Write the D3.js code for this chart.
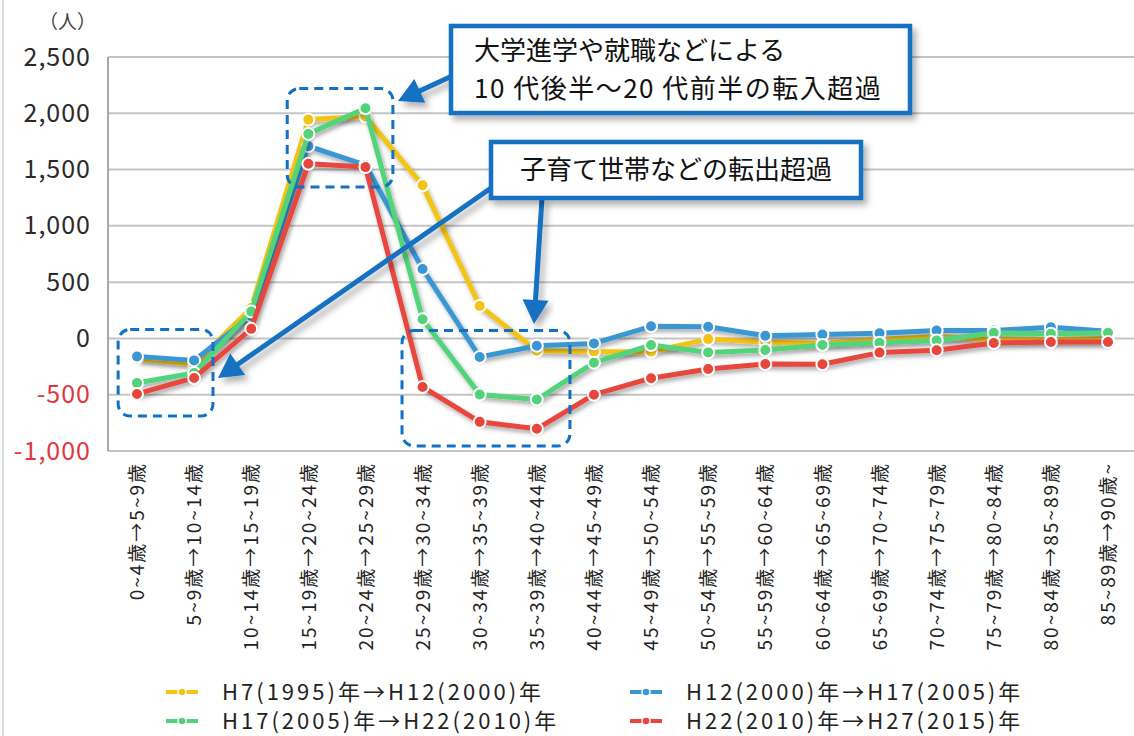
<!DOCTYPE html>
<html>
<head>
<meta charset="utf-8">
<script src="https://cdn.jsdelivr.net/npm/d3@7/dist/d3.min.js"></script>
<style>
  html, body { margin: 0; padding: 0; background: #fff; }
  svg { display: block; }
  text { font-family: "Noto Sans CJK JP", "Noto Sans", sans-serif; }
</style>
</head>
<body>
<svg id="chart" width="1134" height="736"></svg>
<script>
// ---- data ----
const categories = [
  "0~4歳→5~9歳", "5~9歳→10~14歳", "10~14歳→15~19歳", "15~19歳→20~24歳",
  "20~24歳→25~29歳", "25~29歳→30~34歳", "30~34歳→35~39歳", "35~39歳→40~44歳",
  "40~44歳→45~49歳", "45~49歳→50~54歳", "50~54歳→55~59歳", "55~59歳→60~64歳",
  "60~64歳→65~69歳", "65~69歳→70~74歳", "70~74歳→75~79歳", "75~79歳→80~84歳",
  "80~84歳→85~89歳", "85~89歳→90歳~"
];
const seriesNames = [
  "H7(1995)年→H12(2000)年",
  "H12(2000)年→H17(2005)年",
  "H17(2005)年→H22(2010)年",
  "H22(2010)年→H27(2015)年"
];
const h7_h12  = [-180, -230, 270, 1944, 1971, 1360, 289, -110, -118, -118, -6, -35, -42, -10, 18, -12, -12, -6];
const h12_h17 = [-160, -195, 200, 1708, 1540, 617, -165, -65, -44, 108, 103, 23, 35, 47, 70, 70, 99, 64];
const h17_h22 = [-396, -307, 239, 1817, 2044, 171, -498, -543, -215, -59, -124, -103, -59, -38, -18, 50, 41, 50];
const h22_h27 = [-493, -351, 85, 1551, 1522, -431, -741, -803, -500, -353, -271, -227, -230, -126, -105, -41, -32, -32];
const yTicks = [-1000, -500, 0, 500, 1000, 1500, 2000, 2500];
const unitLabel = "（人）";
const note1 = ["大学進学や就職などによる", "10 代後半～20 代前半の転入超過"];
const note2 = "子育て世帯などの転出超過";

const seriesValues = [h7_h12, h12_h17, h17_h22, h22_h27];
const colors = ["#f2c417", "#3a97d4", "#52d37a", "#e8463c"];

// ---- layout ----
const svg = d3.select("#chart");
const W = 1134, H = 736;
const plot = { left: 108, right: 1134, top: 57, bottom: 451 };

const x = d3.scalePoint().domain(categories).range([137, 1108]);
const y = d3.scaleLinear().domain([-1000, 2500]).range([plot.bottom, plot.top]);
const xi = i => x(categories[0]) + i * x.step();

// defs
const defs = svg.append("defs");
const sh = defs.append("filter").attr("id", "shadow").attr("x", "-10%").attr("y", "-10%").attr("width", "130%").attr("height", "140%");
sh.append("feDropShadow").attr("dx", 2).attr("dy", 3).attr("stdDeviation", 2).attr("flood-color", "#000").attr("flood-opacity", 0.35);
const bsh = defs.append("filter").attr("id", "boxshadow").attr("x", "-10%").attr("y", "-20%").attr("width", "130%").attr("height", "160%");
bsh.append("feDropShadow").attr("dx", 4).attr("dy", 5).attr("stdDeviation", 3).attr("flood-color", "#000").attr("flood-opacity", 0.3);

// left page border
svg.append("line").attr("x1", 3).attr("x2", 3).attr("y1", 0).attr("y2", H)
  .attr("stroke", "#d0d0d0").attr("stroke-width", 1.5);

// gridlines
svg.append("g").selectAll("line").data(yTicks).join("line")
  .attr("x1", plot.left).attr("x2", plot.right)
  .attr("y1", d => y(d)).attr("y2", d => y(d))
  .attr("stroke", "#c4c4c4").attr("stroke-width", 2);

// y axis line
svg.append("line").attr("x1", plot.left).attr("x2", plot.left)
  .attr("y1", y(2500)).attr("y2", y(-1000))
  .attr("stroke", "#a8a8a8").attr("stroke-width", 2);

// y axis labels
const fmt = d3.format(",");
const yAxis = d3.axisLeft(y).tickValues(yTicks).tickFormat(d => fmt(d).replace("\u2212", "-")).tickSize(0).tickPadding(17);
const yg = svg.append("g").attr("transform", `translate(${plot.left},0)`).call(yAxis);
yg.select(".domain").remove();
yg.selectAll("text")
  .style("font-size", "25px")
  .style("letter-spacing", "1px")
  .attr("fill", d => d < 0 ? "#e4363f" : "#2a2a2a");

svg.append("text").attr("x", 96).attr("y", 29).attr("text-anchor", "end")
  .style("font-size", "19px").attr("fill", "#444").text(unitLabel);

// x axis labels (rotated)
const xAxis = d3.axisBottom(x).tickSize(0).tickPadding(0);
const xg = svg.append("g").attr("transform", `translate(0,${plot.bottom})`).call(xAxis);
xg.select(".domain").remove();
xg.selectAll("text")
  .attr("transform", "rotate(-90)")
  .attr("text-anchor", "end")
  .attr("x", -11).attr("y", 0).attr("dy", "0.35em")
  .style("font-size", "19px")
  .style("letter-spacing", "2px")
  .attr("fill", "#222");

// series
const line = d3.line().x((d, i) => x(categories[i])).y(d => y(d));
const sg = svg.append("g");
seriesValues.forEach((vals, k) => {
  const g = sg.append("g");
  g.append("path").datum(vals).attr("d", line)
    .attr("fill", "none").attr("stroke", colors[k]).attr("stroke-width", 5)
    .attr("stroke-linejoin", "round").attr("filter", "url(#shadow)");
  g.selectAll("circle").data(vals).join("circle")
    .attr("cx", (d, i) => x(categories[i])).attr("cy", d => y(d)).attr("r", 6)
    .attr("fill", colors[k]).attr("stroke", "#fff").attr("stroke-width", 2);
});

// dashed highlight boxes (data coords)
const blue = "#1271c2";
const dashBoxes = [
  { i0: -0.33, i1: 1.33, v0: 80, v1: -690 },
  { i0: 2.63, i1: 4.48, v0: 2220, v1: 1345 },
  { i0: 4.64, i1: 7.58, v0: 70, v1: -955 }
];
svg.append("g").selectAll("rect").data(dashBoxes).join("rect")
  .attr("x", d => xi(d.i0)).attr("y", d => y(d.v0))
  .attr("width", d => xi(d.i1) - xi(d.i0)).attr("height", d => y(d.v1) - y(d.v0))
  .attr("rx", 12).attr("ry", 12)
  .attr("fill", "none").attr("stroke", blue).attr("stroke-width", 3)
  .attr("stroke-dasharray", "9,6");

// arrows
function arrow(x1, y1, x2, y2) {
  const ang = Math.atan2(y2 - y1, x2 - x1);
  const L = 24, Wd = 13;
  const bx = x2 - L * Math.cos(ang), by = y2 - L * Math.sin(ang);
  const px = -Math.sin(ang), py = Math.cos(ang);
  const g = svg.append("g").attr("filter", "url(#boxshadow)");
  g.append("line").attr("x1", x1).attr("y1", y1).attr("x2", bx + 2 * Math.cos(ang)).attr("y2", by + 2 * Math.sin(ang))
    .attr("stroke", blue).attr("stroke-width", 5);
  g.append("path").attr("d", `M${x2},${y2}L${bx + px * Wd},${by + py * Wd}L${bx - px * Wd},${by - py * Wd}Z`)
    .attr("fill", blue);
}
arrow(452, 76, 398, 101);
arrow(494, 186, 218, 378);
arrow(542, 198, 534, 324);

// annotation boxes
function noteBox(x0, y0, w, h) {
  svg.append("rect").attr("x", x0).attr("y", y0).attr("width", w).attr("height", h)
    .attr("fill", "#fff").attr("stroke", blue).attr("stroke-width", 4.5)
    .attr("filter", "url(#boxshadow)");
}
noteBox(451, 26, 459, 87);
const t1 = svg.append("text").style("font-size", "26px").attr("fill", "#111");
t1.append("tspan").attr("x", 474).attr("y", 60).text(note1[0]);
t1.append("tspan").attr("x", 474).attr("y", 98).style("letter-spacing", "1.5px").text(note1[1]);

noteBox(491, 142, 370, 56);
svg.append("text").attr("x", 676).attr("y", 179).attr("text-anchor", "middle")
  .style("font-size", "26px").attr("fill", "#111").text(note2);

// legend
const legendPos = [
  { mx: 166, ty: 692 }, { mx: 630, ty: 692 },
  { mx: 166, ty: 721 }, { mx: 630, ty: 721 }
];
const lg = svg.append("g");
seriesNames.forEach((name, k) => {
  const p = legendPos[k];
  const g = lg.append("g");
  g.append("line").attr("x1", p.mx).attr("x2", p.mx + 32).attr("y1", p.ty).attr("y2", p.ty)
    .attr("stroke", colors[k]).attr("stroke-width", 4);
  g.append("circle").attr("cx", p.mx + 16).attr("cy", p.ty).attr("r", 4)
    .attr("fill", colors[k]).attr("stroke", "#fff").attr("stroke-width", 1.5);
  g.append("text").attr("x", p.mx + 56).attr("y", p.ty).attr("dy", "0.35em")
    .style("font-size", "22px").style("letter-spacing", "3px").attr("fill", "#222").text(name);
});
</script>
</body>
</html>
